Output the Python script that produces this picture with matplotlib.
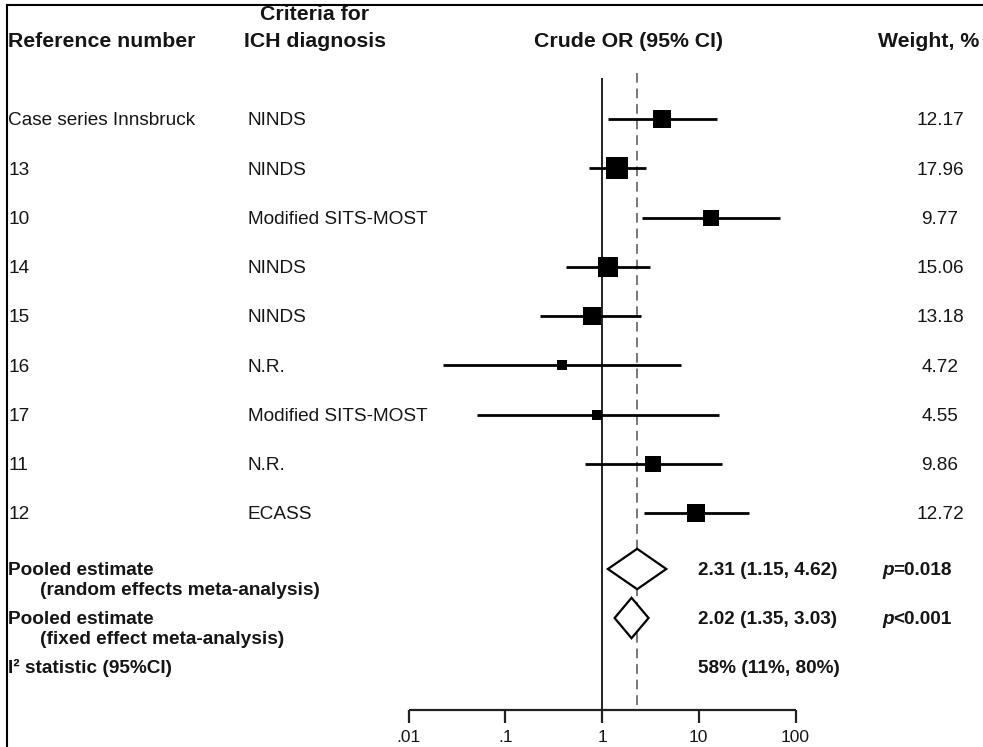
import numpy as np
import matplotlib
matplotlib.use("Agg")
import matplotlib.pyplot as plt
from matplotlib.lines import Line2D
from matplotlib.patches import Polygon
import matplotlib.transforms as mtransforms

plt.rcParams['font.family'] = ['Liberation Sans', 'DejaVu Sans']

# donnees
refs = ["Case series Innsbruck", "13", "10", "14", "15", "16", "17", "11", "12"]
criteria = ["NINDS", "NINDS", "Modified SITS-MOST", "NINDS", "NINDS", "N.R.",
            "Modified SITS-MOST", "N.R.", "ECASS"]
or_est = [4.2, 1.43, 13.4, 1.15, 0.79, 0.39, 0.89, 3.37, 9.4]
ci_lo = [1.15, 0.73, 2.6, 0.42, 0.23, 0.023, 0.051, 0.67, 2.7]
ci_hi = [15.5, 2.85, 69.0, 3.1, 2.5, 6.6, 16.2, 17.4, 33.0]
weights = [12.17, 17.96, 9.77, 15.06, 13.18, 4.72, 4.55, 9.86, 12.72]

pooled_names = ["random effects meta-analysis", "fixed effect meta-analysis"]
pooled_est = [2.31, 2.02]
pooled_lo = [1.15, 1.35]
pooled_hi = [4.62, 3.03]
pooled_p = ["=0.018", "<0.001"]
i2_text = "58% (11%, 80%)"

xticks = [0.01, 0.1, 1, 10, 100]
xtick_labels = [".01", ".1", "1", "10", "100"]

W, H = 983, 747
fig = plt.figure(figsize=(W / 100, H / 100), dpi=100)
ax = fig.add_axes([0, 0, 1, 1])
ax.set_axis_off()

# echelle log : une decade = 96.75 px, OR=1 a x=602 px
dec = 96.75
ax.set_xscale('log')
ax.set_xlim(10 ** (-602 / dec), 10 ** ((W - 602) / dec))
# une ligne = 49.25 px, premiere ligne a y=119 px
row = 49.25
ax.set_ylim((H - 119) / row, -119 / row)

def py(pix):
    return (pix - 119) / row

# transformation : x en fraction de figure, y en unites de lignes
trans = mtransforms.blended_transform_factory(fig.transFigure, ax.transData)
def fx(pix):
    return pix / W

txt = '#151515'
fs = 13.7
fs_head = 15.3

# en-tetes
ax.text(fx(8), py(41), "Reference number", transform=trans, fontsize=fs_head,
        fontweight='bold', va='center', ha='left', color=txt)
ax.text(fx(315), py(14), "Criteria for", transform=trans, fontsize=fs_head,
        fontweight='bold', va='center', ha='center', color=txt)
ax.text(fx(315), py(41), "ICH diagnosis", transform=trans, fontsize=fs_head,
        fontweight='bold', va='center', ha='center', color=txt)
ax.text(fx(629), py(41), "Crude OR (95% CI)", transform=trans, fontsize=fs_head,
        fontweight='bold', va='center', ha='center', color=txt)
ax.text(fx(878), py(41), "Weight, %", transform=trans, fontsize=fs_head,
        fontweight='bold', va='center', ha='left', color=txt)

# lignes de reference
ax.vlines(1, py(78), py(710), color='#222222', lw=1.4)
ax.vlines(pooled_est[0], py(73), py(710), color='#777777', lw=1.4,
          linestyles=(0, (5, 3)))

# etudes
ys = np.arange(len(refs))
for i, y in enumerate(ys):
    ax.text(fx(8), y + 0.04, refs[i], transform=trans, fontsize=fs, va='center',
            ha='left', color=txt)
    ax.text(fx(248), y + 0.04, criteria[i], transform=trans, fontsize=fs,
            va='center', ha='left', color=txt)
    ax.text(fx(940), y + 0.04, f"{weights[i]:.2f}", transform=trans, fontsize=fs,
            va='center', ha='center', color=txt)
    ax.hlines(y, ci_lo[i], ci_hi[i], color='black', lw=2.0)
    side_px = 5.0 * np.sqrt(weights[i])
    ax.plot(or_est[i], y, marker='s', color='black', markersize=side_px * 0.72,
            markeredgewidth=0, linestyle='none')

# estimations poolees
pool_y = [py(569), py(618)]
for k in range(2):
    y = pool_y[k]
    hh = 0.41
    diamond = Polygon([(pooled_lo[k], y), (pooled_est[k], y - hh),
                       (pooled_hi[k], y), (pooled_est[k], y + hh)],
                      closed=True, facecolor='white', edgecolor='black', lw=1.6,
                      zorder=3)
    ax.add_patch(diamond)
    ax.text(fx(8), y + 0.04, "Pooled estimate", transform=trans, fontsize=fs,
            fontweight='bold', va='center', ha='left', color=txt)
    ax.text(fx(40), y + 0.04 + py(591) - py(571), "(" + pooled_names[k] + ")",
            transform=trans, fontsize=fs, fontweight='bold', va='center',
            ha='left', color=txt)
    ax.text(fx(698), y + 0.04,
            f"{pooled_est[k]:.2f} ({pooled_lo[k]:.2f}, {pooled_hi[k]:.2f})",
            transform=trans, fontsize=fs, fontweight='bold', va='center',
            ha='left', color=txt)
    tp = ax.text(fx(882), y + 0.04, "p", transform=trans, fontsize=fs,
                 fontweight='bold', fontstyle='italic', va='center', ha='left',
                 color=txt)
    ax.annotate(pooled_p[k], xy=(1, 0), xycoords=tp, fontsize=fs,
                fontweight='bold', va='bottom', ha='left', color=txt)

ax.text(fx(8), py(668), "I² statistic (95%CI)", transform=trans, fontsize=fs,
        fontweight='bold', va='center', ha='left', color=txt)
ax.text(fx(698), py(668), i2_text, transform=trans, fontsize=fs,
        fontweight='bold', va='center', ha='left', color=txt)

# axe des x dessine a la main
ax.hlines(py(710), xticks[0], xticks[-1], color='#222222', lw=1.6)
for t, lab in zip(xticks, xtick_labels):
    ax.vlines(t, py(710), py(723), color='#222222', lw=1.6)
    ax.text(t, py(745), lab, fontsize=12.5, va='bottom', ha='center', color=txt)

# cadre
fig.add_artist(Line2D([fx(7), 1], [1 - 5 / H, 1 - 5 / H], transform=fig.transFigure,
                      color='black', lw=1.5))
fig.add_artist(Line2D([fx(7), fx(7)], [0, 1 - 5 / H], transform=fig.transFigure,
                      color='black', lw=1.5))

fig.savefig("out.png", dpi=100)
